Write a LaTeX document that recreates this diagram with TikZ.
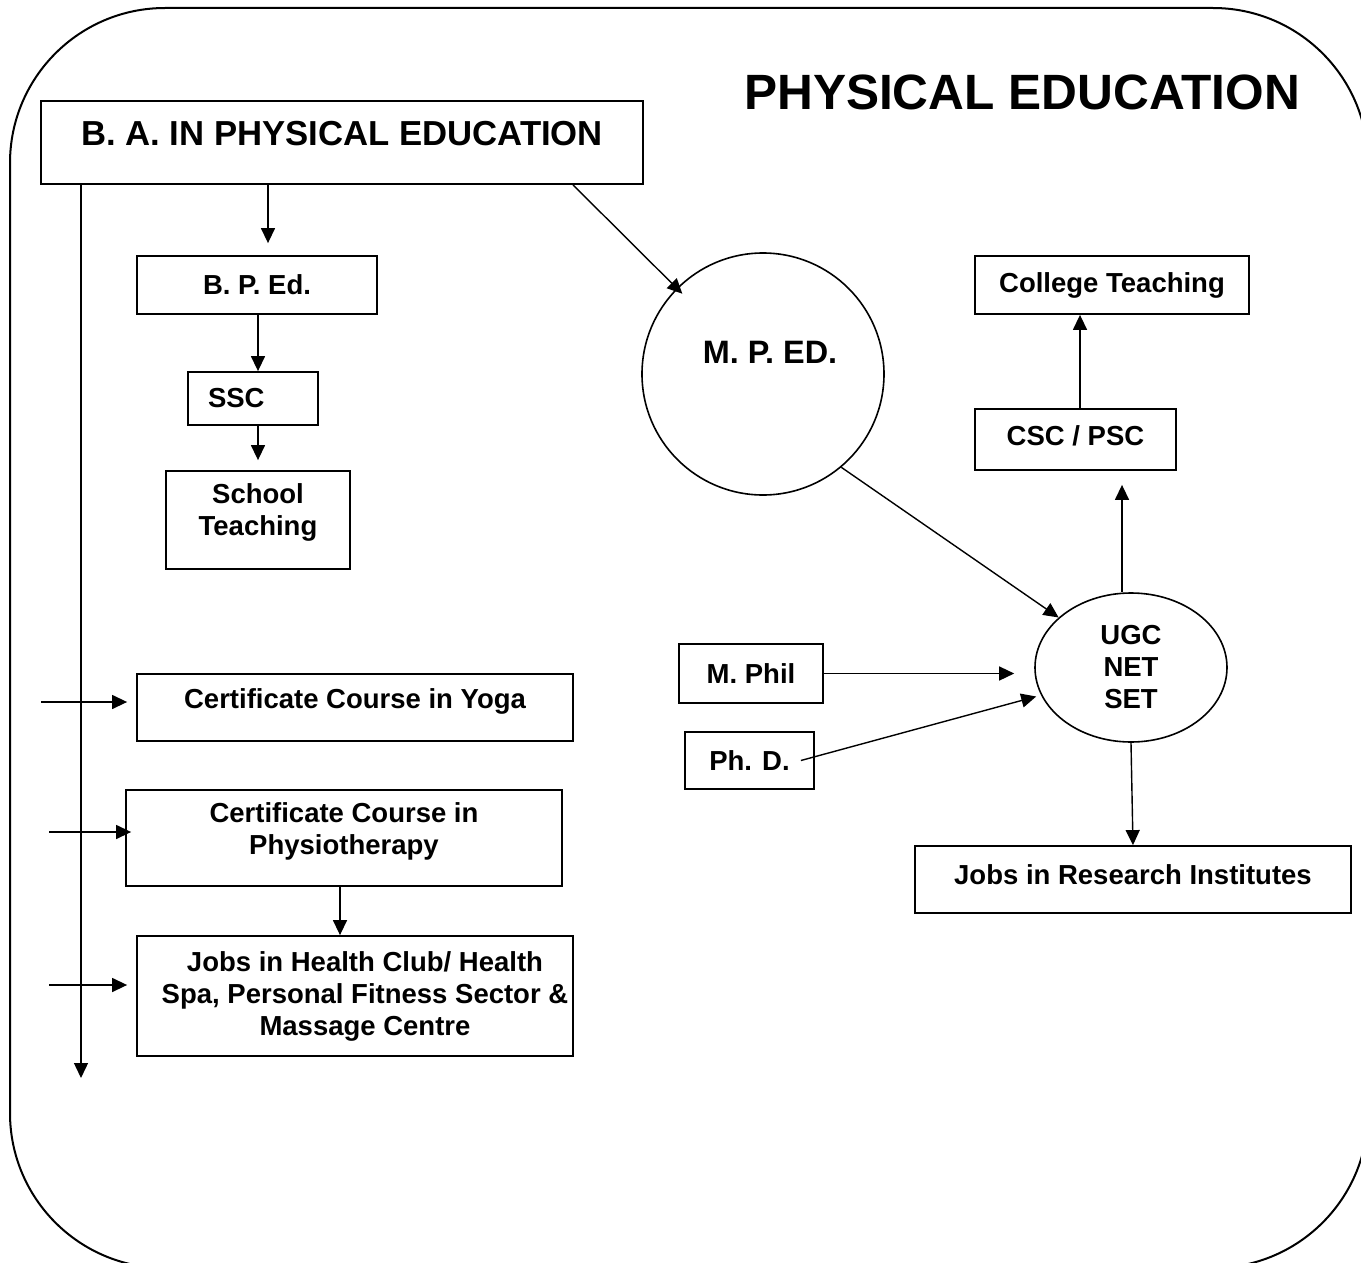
\documentclass[tikz,border=0pt]{standalone}
\usepackage{fontspec}
\setmainfont{Liberation Sans}
\usetikzlibrary{arrows.meta, shapes.geometric, calc}

\begin{document}
\begin{tikzpicture}[x=1pt, y=-1pt,
    box/.style={rectangle, draw, line width=1.8pt, inner sep=0pt, align=center,
                font=\fontsize{27.5}{32}\selectfont\bfseries},
    bigtext/.style={font=\fontsize{34.7}{40}\selectfont\bfseries},
    lift/.style={text depth=#1},
    arr/.style={-{Triangle[length=15pt, width=14pt]}, line width=1.4pt}
]
\useasboundingbox (0,0) rectangle (1361,1263);
\clip (0,0) rectangle (1361,1263);

% frame
\draw[line width=2pt, rounded corners=155pt] (10,8) rectangle (1368,1268);
\node[font=\fontsize{49.6}{58}\selectfont\bfseries, anchor=base] (title) at (1022,110) {PHYSICAL EDUCATION};

% left column
\node[box, bigtext, minimum width=602pt, minimum height=83pt, text height=44pt, text depth=39pt] (ba) at (342,142.5) {B. A. IN PHYSICAL EDUCATION};
\node[box, minimum width=240pt, minimum height=58pt] (bped) at (257,285) {B. P. Ed.};
\node[box, minimum width=130pt, minimum height=53pt, text width=90pt, align=left, inner xsep=20pt] (ssc) at (253,398.5) {SSC};
\node[box, minimum width=184pt, minimum height=98pt, lift=20pt] (school) at (258,520) {School\\Teaching};
\node[box, minimum width=436pt, minimum height=67pt, lift=17pt] (yoga) at (355,707.5) {Certificate Course in Yoga};
\node[box, minimum width=436pt, minimum height=96pt, lift=18pt] (physio) at (344,838) {Certificate Course in\\Physiotherapy};
\node[box, minimum width=436pt, minimum height=120pt] (health) at (355,996) {\hspace*{20pt}Jobs in Health Club/ Health\\\hspace*{20pt}Spa, Personal Fitness Sector \&\\\hspace*{20pt}Massage Centre};
\coordinate (bottom) at (81,1078);

% right side
\node[circle, draw, line width=1.6pt, minimum size=242pt, inner sep=0pt, font=\fontsize{32.4}{38}\selectfont\bfseries, text height=23pt, text depth=45pt] (mped) at (763,374) {\hspace*{14pt}M. P. ED.};
\node[box, minimum width=274pt, minimum height=58pt] (college) at (1112,285) {College Teaching};
\node[box, minimum width=201pt, minimum height=61pt, lift=7pt] (csc) at (1075.5,439.5) {CSC / PSC};
\node[ellipse, draw, line width=1.6pt, minimum width=192pt, minimum height=149pt, inner sep=0pt, align=center, font=\fontsize{27.5}{32}\selectfont\bfseries] (ugc) at (1131,667.5) {UGC\\NET\\SET};
\node[box, minimum width=144pt, minimum height=59pt] (mphil) at (751,673.5) {M. Phil};
\node[box, minimum width=129pt, minimum height=57pt] (phd) at (749.5,760.5) {Ph. D.};
\node[box, minimum width=436pt, minimum height=67pt, lift=10pt] (research) at (1133,879.5) {Jobs in Research Institutes};

% connectors
\draw[arr] ($(bped.north |- ba.south)+(11,0)$) -- ($(bped.north)+(11,-12)$);
\draw[arr, shorten >=-8pt] ($(ba.south)+(231,0)$) -- (mped);
\draw[arr] ($(bped.south)+(1,0)$) -- ($(bped.south |- ssc.north)+(1,0)$);
\draw[arr, shorten >=10pt] (school.north |- ssc.south) -- (school.north);
\draw[arr] (ba.south west -| bottom) -- (bottom);
\draw[arr] ($(yoga.west)+(-95,-5.5)$) -- ($(yoga.west)+(-9,-5.5)$);
\draw[arr] ($(physio.west)+(-76,-6)$) -- ($(physio.west)+(6,-6)$);
\draw[arr] ($(health.west)+(-87,-11)$) -- ($(health.west)+(-9,-11)$);
\draw[arr] ($(physio.south)+(-4,0)$) -- ($(physio.south |- health.north)+(-4,0)$);

\draw[arr] (mped.-50) -- (ugc);
\draw[arr, shorten >=20pt] (mphil.east) -- (mphil.east -| ugc.west);
\draw[arr] ($(phd.east)+(-14,0)$) -- ($(ugc.west)+(2,29)$);
\draw[arr, shorten >=14pt] ($(ugc.north)+(-9,0)$) -- ($(csc.south -| ugc.north)+(-9,0)$);
\draw[arr] ($(csc.north)+(4.5,0)$) -- ($(college.south -| csc.north)+(4.5,0)$);
\draw[arr] (ugc.south) -- (research.north);
\end{tikzpicture}
\end{document}
